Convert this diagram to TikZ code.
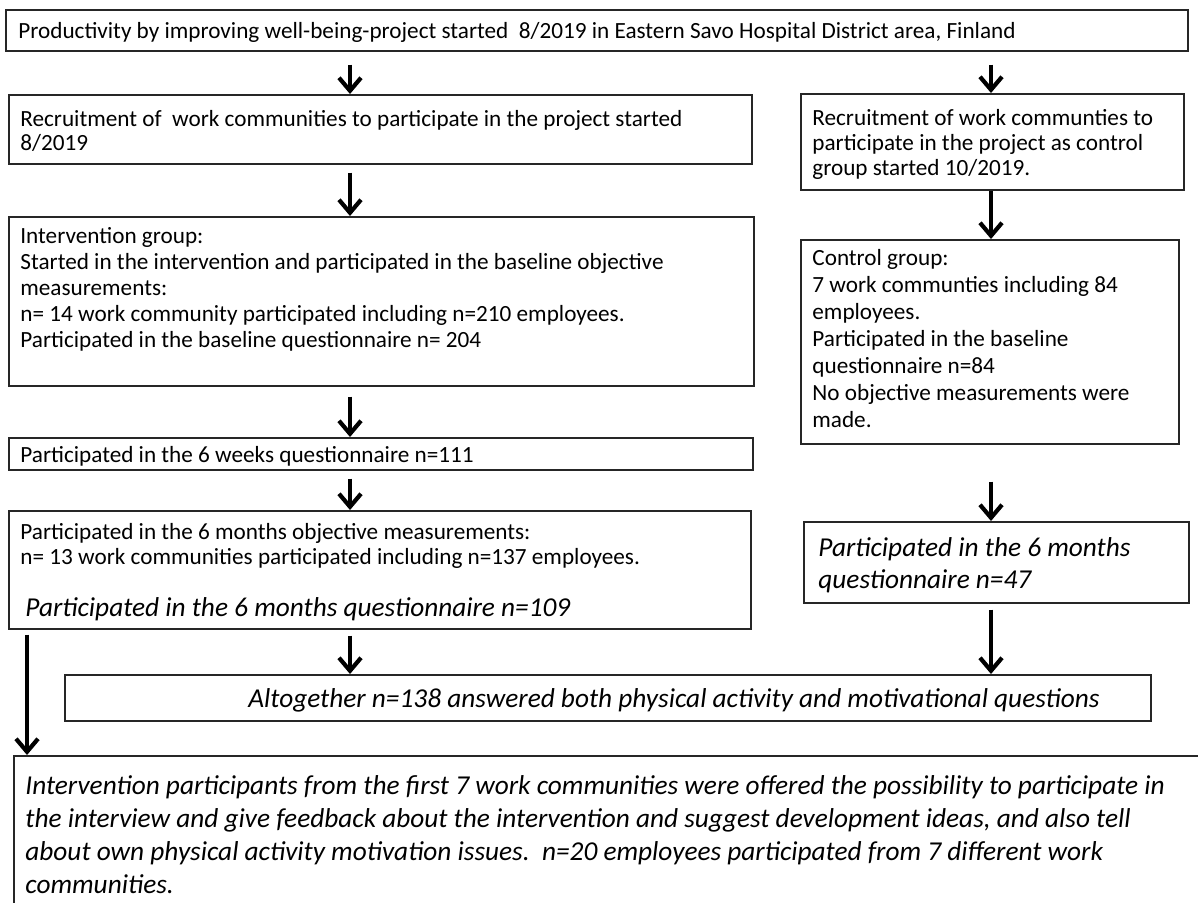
\documentclass[tikz,border=0pt]{standalone}
\usepackage{fontspec}
\setmainfont{Carlito}
\usetikzlibrary{arrows.meta}
\begin{document}
\begin{tikzpicture}[x=0.5pt,y=-0.5pt,
  box/.style={draw=black!85, line width=0.8pt, inner sep=0pt, anchor=north west},
  txt/.style={anchor=base west, inner sep=0pt, align=left, font=\fontsize{11.6}{#1}\selectfont},
  itx/.style={anchor=base west, inner sep=0pt, align=left, font=\fontsize{13.65}{#1}\selectfont\itshape},
  arr/.style={line width=2.1pt, -{Straight Barb[length=6.5pt,width=11pt]}}]
\useasboundingbox (0,0) rectangle (1198,902);
\fill[white] (0,0) rectangle (1198,902);
\clip (0,0) rectangle (1198,902);
\coordinate (cL) at (350,0);
\coordinate (cR) at (991,0);
\coordinate (cF) at (27,0);
% boxes
\node[box, minimum width=591pt,   minimum height=20.5pt] (b1) at (5,9) {};
\node[box, minimum width=371.5pt, minimum height=34.5pt] (b2) at (8,94) {};
\node[box, minimum width=191.5pt, minimum height=48pt]   (b3) at (800,93) {};
\node[box, minimum width=372.5pt, minimum height=84.5pt] (b4) at (8,216) {};
\node[box, minimum width=189pt,   minimum height=102pt]  (b5) at (800,239) {};
\node[box, minimum width=372pt,   minimum height=16pt]   (b6) at (8,437) {};
\node[box, minimum width=371pt,   minimum height=59pt]   (b7) at (8,510) {};
\node[box, minimum width=192.5pt, minimum height=40.5pt] (b8) at (803,521) {};
\node[box, minimum width=543pt,   minimum height=23pt]   (b9) at (64,674) {};
\node[box, minimum width=600pt,   minimum height=100pt]  (b10) at (13,755) {};
% texts (anchor = baseline of the last line)
\node[txt=12pt] (t1) at (18,38) {Productivity by improving well-being-project started\ \ 8/2019 in Eastern Savo Hospital District area, Finland};
\node[txt=12pt] (t2) at (20,150) {Recruitment of\ \ work communities to participate in the project started\\8/2019};
\node[txt=12.5pt] (t3) at (812,175) {Recruitment of work communties to\\participate in the project as control\\group started 10/2019.};
\node[txt=13pt] (t4) at (20,347) {Intervention group:\\Started in the intervention and participated in the baseline objective\\measurements:\\n= 14 work community participated including n=210 employees.\\Participated in the baseline questionnaire n= 204};
\node[txt=13.5pt] (t5) at (812,427) {Control group:\\7 work communties including 84\\employees.\\Participated in the baseline\\questionnaire n=84\\No objective measurements were\\made.};
\node[txt=12pt] (t6) at (20,462) {Participated in the 6 weeks questionnaire n=111};
\node[txt=12.5pt] (t7) at (20,564) {Participated in the 6 months objective measurements:\\n= 13 work communities participated including n=137 employees.};
\node[itx=16pt] (t7b) at (25,616.5) {Participated in the 6 months questionnaire n=109};
\node[itx=16pt] (t8) at (818,588.5) {Participated in the 6 months\\questionnaire n=47};
\node[itx=16pt] (t9) at (248,707.5) {Altogether n=138 answered both physical activity and motivational questions};
\node[itx=16.5pt] (t10) at (25,893.5) {Intervention participants from the first 7 work communities were offered the possibility to participate in\\the interview and give feedback about the intervention and suggest development ideas, and also tell\\about own physical activity motivation issues.\ \ n=20 employees participated from 7 different work\\communities.};
% arrows
\draw[arr, shorten <=6.5pt] (b1.south -| cL) -- (b2.north -| cL);
\draw[arr, shorten <=6.5pt] (b1.south -| cR) -- (b3.north -| cR);
\draw[arr, shorten <=4pt] (b2.south -| cL) -- (b4.north -| cL);
\draw[arr] (b3.south -| cR) -- (b5.north -| cR);
\draw[arr, shorten <=5pt] (b4.south -| cL) -- (b6.north -| cL);
\draw[arr, shorten <=4pt] (b6.south -| cL) -- (b7.north -| cL);
\draw[arr, shorten <=18.5pt] (b5.south -| cR) -- (b8.north -| cR);
\draw[arr, shorten <=3pt] (b7.south -| cL) -- (b9.north -| cL);
\draw[arr, shorten <=3pt] (b8.south -| cR) -- (b9.north -| cR);
\draw[arr, shorten <=2.5pt] (b7.south -| cF) -- (b10.north -| cF);
\end{tikzpicture}
\end{document}
